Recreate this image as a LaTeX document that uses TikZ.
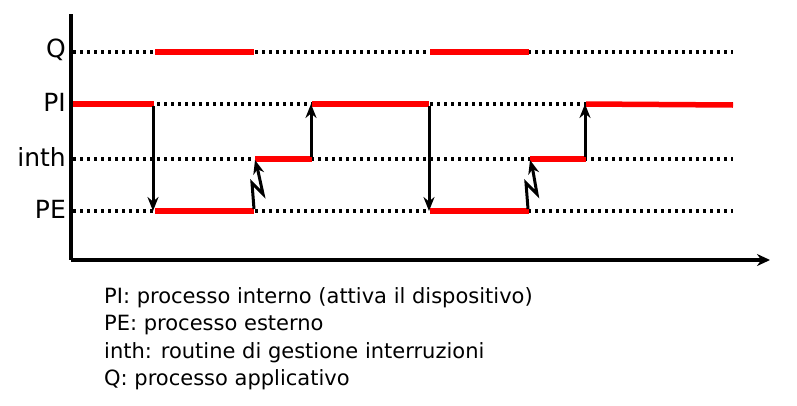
\documentclass[tikz,border=0pt]{standalone}
\usepackage{fontspec}
\setmainfont{DejaVu Sans}
\usetikzlibrary{arrows.meta}
\begin{document}
\begin{tikzpicture}[x=1pt,y=-1pt,
  axis/.style={line width=4pt},
  level/.style={line width=3.4pt,dash pattern=on 3.2pt off 3.8pt},
  busy/.style={red,line width=5.5pt},
  sw/.style={line width=3pt,-{Stealth[length=14pt,width=11pt]}},
  lab/.style={anchor=east,inner sep=0pt,font=\fontsize{25}{25}\selectfont},
  legend/.style={anchor=north west,align=left,inner sep=0pt,font=\fontsize{21}{27.5}\selectfont}]
\useasboundingbox (0,0) rectangle (797,405);
% axes
\coordinate (o) at (71,260);
\coordinate (ytop) at (71,14);
\coordinate (xend) at (770,260);
\draw[axis] (ytop) -- (o);
\draw[axis,-{Stealth[length=13pt,width=12pt]}] (o) -- (xend);
% levels
\foreach \n/\y in {Q/52,PI/104,inth/159,PE/211}{
  \coordinate (\n0) at (73,\y);
  \coordinate (\n1) at (733,\y);
  \draw[level] (\n0) -- (\n1);
  \node[lab] (l\n) at (66,\y-2) {\n};
}
% busy segments
\coordinate (a1) at (73,104);  \coordinate (a2) at (154,104);
\coordinate (b1) at (155,211); \coordinate (b2) at (254,211);
\coordinate (c1) at (155,52);  \coordinate (c2) at (254,52);
\coordinate (d1) at (255,159); \coordinate (d2) at (312,159);
\coordinate (e1) at (312,104); \coordinate (e2) at (429,104);
\coordinate (f1) at (430,52);  \coordinate (f2) at (529,52);
\coordinate (g1) at (430,211); \coordinate (g2) at (529,211);
\coordinate (h1) at (530,159); \coordinate (h2) at (586,159);
\coordinate (i1) at (586,104); \coordinate (i2) at (733,105);
\foreach \s in {a,b,c,d,e,f,g,h,i}{\draw[busy] (\s1) -- (\s2);}
% switches
\coordinate (s1a) at (153,106); \coordinate (s1b) at (153,211);
\coordinate (s2a) at (311,157); \coordinate (s2b) at (311,104);
\coordinate (s3a) at (429,106); \coordinate (s3b) at (429,211);
\coordinate (s4a) at (585,157); \coordinate (s4b) at (585,104);
\draw[sw] (s1a) -- (s1b);
\draw[sw] (s2a) -- (s2b);
\draw[sw] (s3a) -- (s3b);
\draw[sw] (s4a) -- (s4b);
% interrupts
\coordinate (z1) at (254,209); \coordinate (z1e) at (255,160);
\draw[sw] (z1) -- (252,183) -- (263,194) -- (258,171) -- (z1e);
\coordinate (z2) at (528,209); \coordinate (z2e) at (530,160);
\draw[sw] (z2) -- (526,183) -- (537,194) -- (533,171) -- (z2e);
% legend
\node[legend] (leg) at (104,287) {PI: processo interno (attiva il dispositivo)\\PE: processo esterno\\inth: routine di gestione interruzioni\\Q: processo applicativo};
\end{tikzpicture}
\end{document}
